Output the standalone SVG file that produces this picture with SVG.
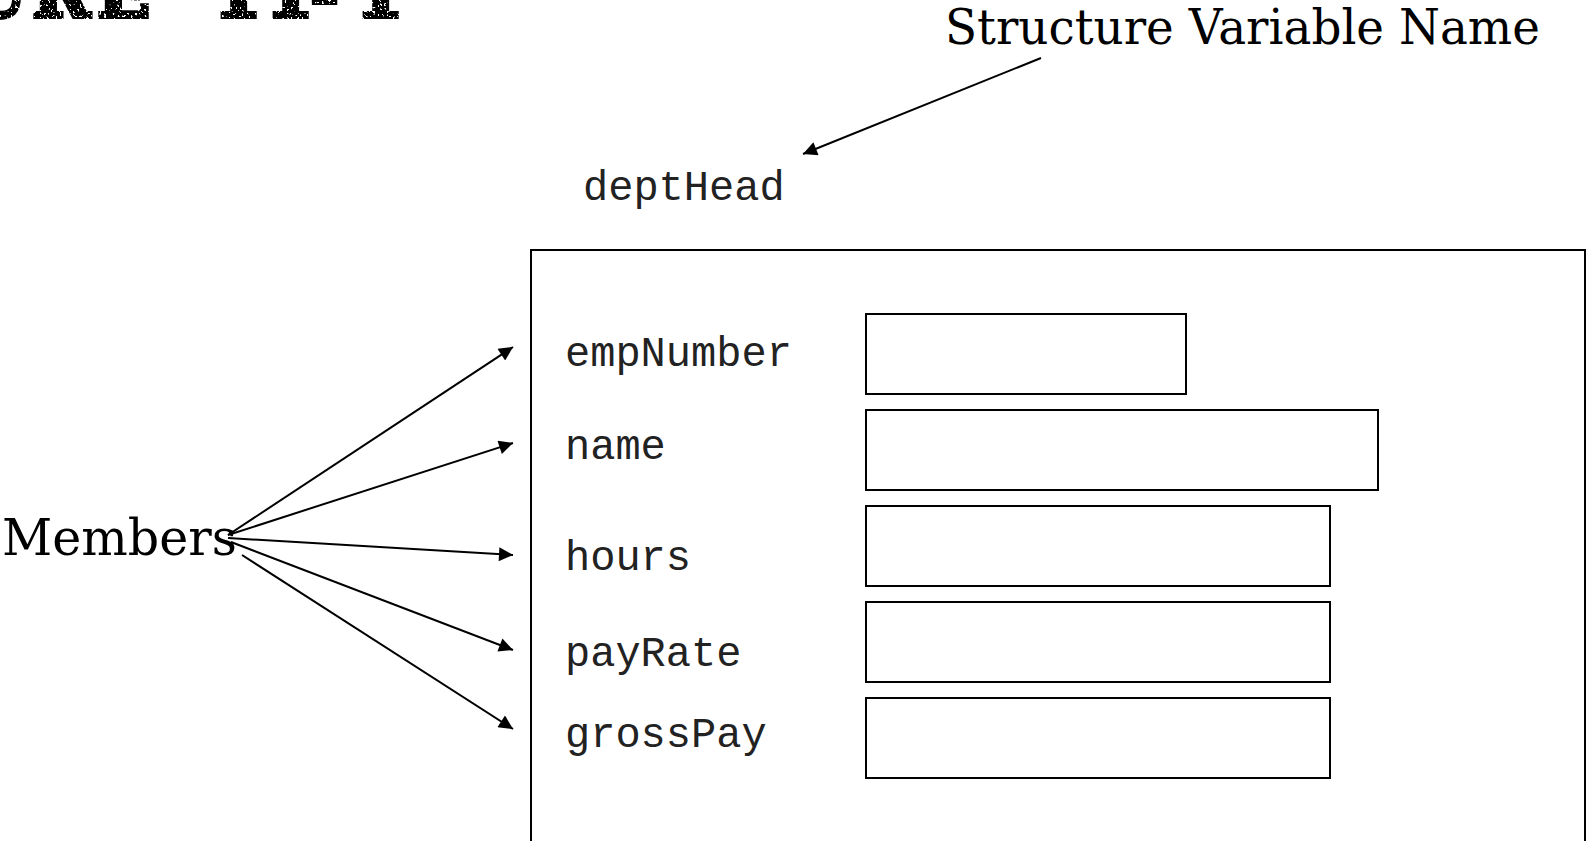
<svg xmlns="http://www.w3.org/2000/svg" width="1587" height="841" viewBox="0 0 1587 841">
  <style>
    .heading { font-family: "DejaVu Serif", "Liberation Serif", serif; fill: #000; }
    .stamp { font-family: "DejaVu Serif", "Liberation Serif", serif; font-weight: bold; font-size: 70px; fill: #000; stroke: #000; stroke-width: 4; stroke-linejoin: miter; }
    .code { font-family: "Liberation Mono", "Courier New", monospace; font-size: 42px; fill: #222; }
    .box { fill: none; stroke: #000; stroke-width: 2; }
    .conn { fill: none; stroke: #000; stroke-width: 2; }
  </style>
  <defs>
    <marker id="arrow" viewBox="0 0 10 10" refX="10" refY="5" markerWidth="8" markerHeight="7" markerUnits="strokeWidth" orient="auto">
      <path d="M0,0 L10,5 L0,10 Z" fill="#000"/>
    </marker>
    <!-- sparse white specks in the stamped slide title -->
    <filter id="grain" x="0" y="0" width="1" height="1">
      <feTurbulence type="fractalNoise" baseFrequency="0.45" numOctaves="1" seed="7" result="noise"/>
      <feColorMatrix in="noise" type="matrix" values="0 0 0 0 0  0 0 0 0 0  0 0 0 0 0  -25 0 0 0 16.5" result="mask"/>
      <feComposite in="SourceGraphic" in2="mask" operator="in"/>
    </filter>
  </defs>

  <rect width="1587" height="841" fill="#fff"/>

  <!-- slide title, mostly above the top edge -->
  <g id="title">
    <text class="stamp" filter="url(#grain)" x="-185 -130 -92 -34 32 97 160 213 265 310 355" y="17">FIGURE 11-1</text>
  </g>

  <g id="struct-var-label">
    <text class="heading" x="945" y="44" font-size="48" textLength="595" lengthAdjust="spacingAndGlyphs">Structure Variable Name</text>
  </g>

  <g id="members-label">
    <text class="heading" x="2" y="555" font-size="50" textLength="235" lengthAdjust="spacingAndGlyphs">Members</text>
  </g>

  <g id="var-name">
    <text class="code" x="583" y="200">deptHead</text>
  </g>

  <g id="struct-box">
    <rect class="box" x="531" y="250" width="1054" height="620"/>
  </g>

  <g id="member-empNumber">
    <text class="code" x="565" y="366">empNumber</text>
    <rect class="box" x="866" y="314" width="320" height="80"/>
  </g>
  <g id="member-name">
    <text class="code" x="565" y="459">name</text>
    <rect class="box" x="866" y="410" width="512" height="80"/>
  </g>
  <g id="member-hours">
    <text class="code" x="565" y="570">hours</text>
    <rect class="box" x="866" y="506" width="464" height="80"/>
  </g>
  <g id="member-payRate">
    <text class="code" x="565" y="666">payRate</text>
    <rect class="box" x="866" y="602" width="464" height="80"/>
  </g>
  <g id="member-grossPay">
    <text class="code" x="565" y="747">grossPay</text>
    <rect class="box" x="866" y="698" width="464" height="80"/>
  </g>

  <g id="connectors">
    <line class="conn" x1="1041" y1="58" x2="803" y2="154" marker-end="url(#arrow)"/>
    <line class="conn" x1="228" y1="535" x2="513" y2="347" marker-end="url(#arrow)"/>
    <line class="conn" x1="228" y1="535" x2="513" y2="443" marker-end="url(#arrow)"/>
    <line class="conn" x1="228" y1="538" x2="513" y2="555" marker-end="url(#arrow)"/>
    <line class="conn" x1="231" y1="542" x2="513" y2="650" marker-end="url(#arrow)"/>
    <line class="conn" x1="242" y1="555" x2="513" y2="729" marker-end="url(#arrow)"/>
  </g>
</svg>
